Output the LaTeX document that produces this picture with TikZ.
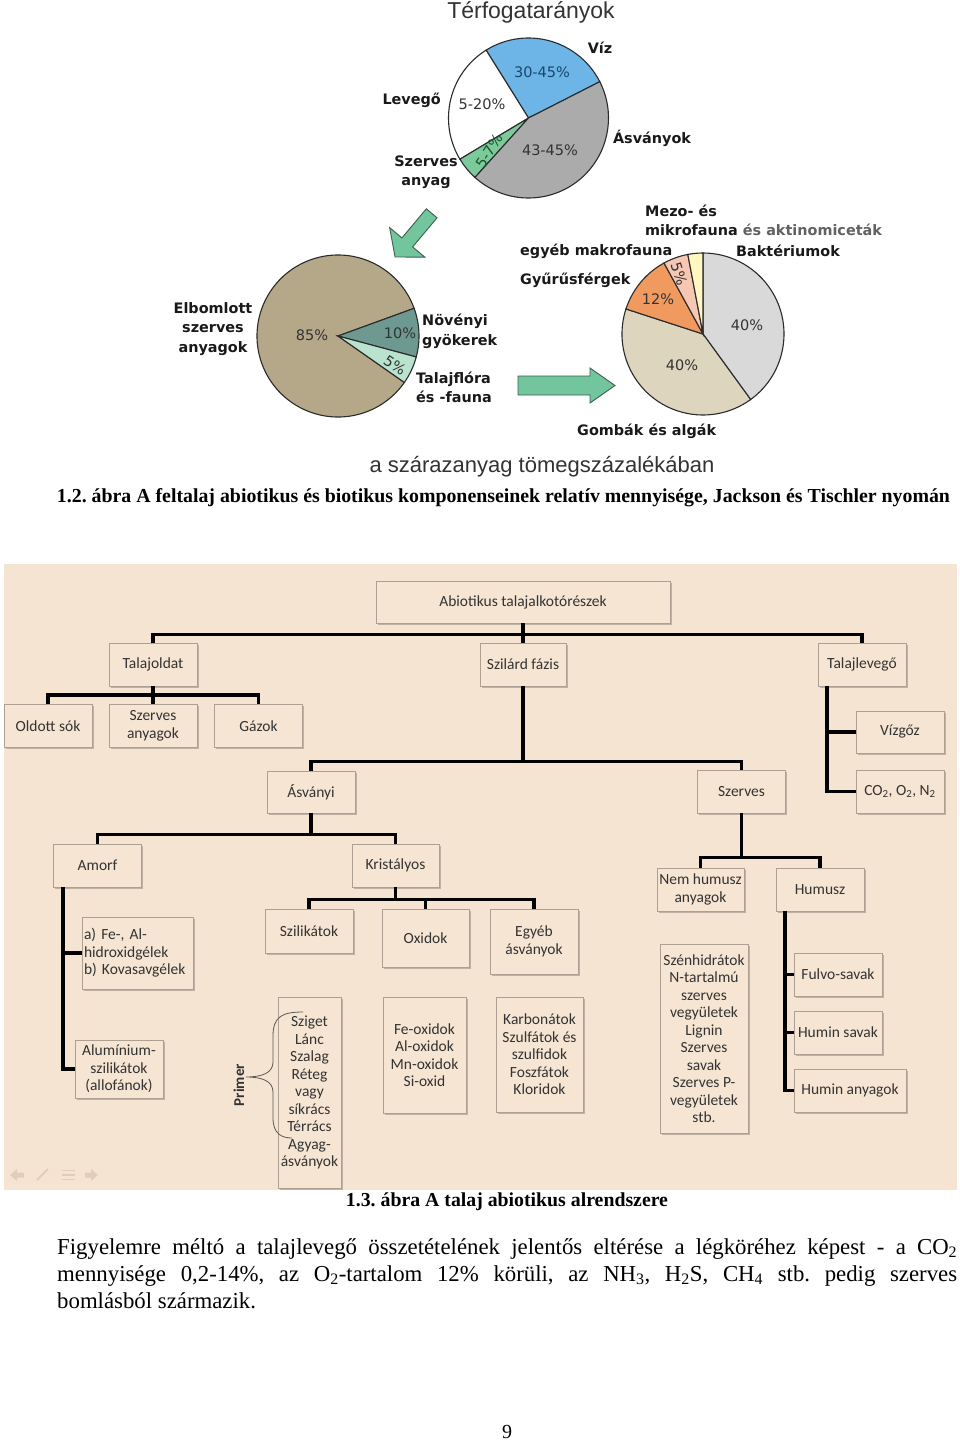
\documentclass[tikz,border=0pt]{standalone}
\usepackage{fontspec}
\setmainfont{Liberation Serif}
\newfontfamily\vfont{DejaVu Sans}
\newfontfamily\cfont{Carlito}
\newfontfamily\afont{Liberation Sans}
\usetikzlibrary{shadows}
\definecolor{pblue}{HTML}{6DB5E6}
\definecolor{pgray}{HTML}{ABABAB}
\definecolor{pgreen}{HTML}{7CC99A}
\definecolor{ptan}{HTML}{B5A889}
\definecolor{pteal}{HTML}{6E9990}
\definecolor{pmint}{HTML}{B9E3CF}
\definecolor{plgray}{HTML}{D9D9D9}
\definecolor{pbeige}{HTML}{DDD5BE}
\definecolor{porange}{HTML}{F09A60}
\definecolor{ppink}{HTML}{F6C7B3}
\definecolor{pyellow}{HTML}{FFF6C2}
\definecolor{pieline}{HTML}{2B2B2B}
\definecolor{arrowfill}{HTML}{72C59C}
\definecolor{arrowline}{HTML}{3E5E4E}
\definecolor{panelbg}{HTML}{F5E4D2}
\definecolor{boxfill}{HTML}{F6E5D3}
\definecolor{boxline}{HTML}{ADA093}
\definecolor{treetext}{HTML}{333333}
\definecolor{iconc}{HTML}{E2CDB8}
\newcommand\pieslice[6]{\filldraw[fill=#6, draw=pieline, line width=1.1pt] (#1,#2) -- ++(#4:#3pt) arc[start angle=#4, end angle=#5, radius=#3pt] -- cycle;}
\tikzset{
  plab/.style={font=\vfont\bfseries\fontsize{14.4}{19.5}\selectfont, text=black!90, align=center, inner sep=0pt},
  pval/.style={font=\vfont\fontsize{14.5}{16}\selectfont, text=black!80, inner sep=0pt},
  garrow/.style={fill=arrowfill, draw=arrowline, line width=0.9pt, line join=miter},
  tbox/.style={draw=boxline, fill=boxfill, line width=0.8pt, inner sep=1pt,
    drop shadow={shadow xshift=1.6pt, shadow yshift=-1.6pt, fill=black, opacity=0.22},
    font=\cfont\fontsize{15.5}{17.5}\selectfont, text=treetext, align=center,
    minimum width=88pt, minimum height=43pt},
  conn/.style={line width=3.6pt, draw=black},
}
\frenchspacing
\begin{document}
\begin{tikzpicture}[x=1pt,y=1pt]
\useasboundingbox (0,0) rectangle (960,-1443);
\fill[white] (0,0) rectangle (960,-1443);

% ---------------- Pie 1: Térfogatarányok
\node (title) [font=\afont\fontsize{23}{26}\selectfont, text=black!80, inner sep=0pt] at (531,-12) {Térfogatarányok};
\pieslice{528.5}{-118}{80}{27}{122}{pblue}
\pieslice{528.5}{-118}{80}{122}{211}{white}
\pieslice{528.5}{-118}{80}{211}{228}{pgreen}
\pieslice{528.5}{-118}{80}{228}{387}{pgray}
\node (v1) [pval, text={rgb,255:red,25;green,70;blue,110}] at (542,-72) {30-45\%};
\node (v2) [pval] at (482,-104) {5-20\%};
\node (v3) [pval] at (550,-150) {43-45\%};
\node (v4) [pval, text={rgb,255:red,25;green,85;blue,45}, rotate=58] at (489,-151) {5-7\%};
\node (lviz) [plab] at (600,-48) {Víz};
\node (llev) [plab, anchor=east] at (441,-100) {Levegő};
\node (lasv) [plab] at (652,-138) {Ásványok};
\node (lszer) [plab] at (426,-172) {Szerves\\anyag};

% arrows
\begin{scope}[shift={(431.7,-213.3)}, rotate=230]
\draw[garrow] (0,7) -- (38,7) -- (38,23) -- (57,0) -- (38,-23) -- (38,-7) -- (0,-7) -- cycle;
\end{scope}
\begin{scope}[shift={(518,-385.5)}]
\draw[garrow] (0,9.5) -- (72,9.5) -- (72,17.5) -- (97,0) -- (72,-17.5) -- (72,-9.5) -- (0,-9.5) -- cycle;
\end{scope}

% ---------------- Pie 2
\pieslice{338}{-336}{81}{20}{325}{ptan}
\pieslice{338}{-336}{81}{-15}{20}{pteal}
\pieslice{338}{-336}{81}{-35}{-15}{pmint}
\node (w1) [pval] at (312,-335) {85\%};
\node (w2) [pval] at (400,-333) {10\%};
\node (w3) [pval, rotate=-33] at (395,-365) {5\%};
\node (lelb) [plab] at (213,-329) {Elbomlott\\szerves\\anyagok};
\node (lnov) [plab, anchor=west, align=left] at (422,-331.5) {Növényi\\gyökerek};
\node (ltal) [plab, anchor=west, align=left] at (416,-387.5) {Talajflóra\\és -fauna};

% ---------------- Pie 3
\pieslice{703}{-334}{81}{-54}{90}{plgray}
\pieslice{703}{-334}{81}{162}{306}{pbeige}
\pieslice{703}{-334}{81}{118.8}{162}{porange}
\pieslice{703}{-334}{81}{100.8}{118.8}{ppink}
\pieslice{703}{-334}{81}{90}{100.8}{pyellow}
\node (u1) [pval] at (747,-325) {40\%};
\node (u2) [pval] at (682,-365) {40\%};
\node (u3) [pval] at (658,-299) {12\%};
\node (u4) [pval, rotate=-72] at (679,-274) {5\%};
\node (lmezo) [plab, anchor=west] at (645,-211) {Mezo- és};
\node (lmikro) [plab, anchor=west] at (645,-230) {mikrofauna {\color{black!62}és aktinomiceták}};
\node (lmakro) [plab, anchor=west] at (520,-251) {egyéb makrofauna};
\node (lbakt) [plab, anchor=west] at (736,-251) {Baktériumok};
\node (lgyur) [plab, anchor=west] at (520,-280) {Gyűrűsférgek};
\node (lgomb) [plab, anchor=west] at (577,-431) {Gombák és algák};

\node (sub) [font=\afont\fontsize{22}{24}\selectfont, text=black!80, inner sep=0pt] at (542,-467) {a szárazanyag tömegszázalékában};
\node (cap1) [inner sep=0pt] at (503.5,-498) {\resizebox{893pt}{!}{\fontsize{18}{20}\selectfont\bfseries 1.2. ábra A feltalaj abiotikus és biotikus komponenseinek relatív mennyisége, Jackson és Tischler nyomán}};

% ---------------- Tree panel
\fill[panelbg] (4,-564) rectangle (957,-1190);
% slide icons
\fill[iconc] (10,-1175) -- (17,-1169) -- (17,-1172.5) -- (24,-1172.5) -- (24,-1177.5) -- (17,-1177.5) -- (17,-1181) -- cycle;
\draw[iconc, line width=2pt] (37,-1180) -- (48,-1169);
\draw[iconc, line width=1.6pt] (62,-1170.5) -- (75,-1170.5) (62,-1175) -- (75,-1175) (62,-1179.5) -- (75,-1179.5);
\fill[iconc] (98,-1175) -- (91,-1169) -- (91,-1172.5) -- (85,-1172.5) -- (85,-1177.5) -- (91,-1177.5) -- (91,-1181) -- cycle;

\node (abio) [tbox, minimum width=294pt, minimum height=42pt] at (523,-602) {Abiotikus talajalkotórészek};
\node (tol) [tbox] at (153,-664.5) {Talajoldat};
\node (szil) [tbox, minimum width=86pt] at (523,-664.5) {Szilárd fázis};
\node (tlev) [tbox] at (862,-664.5) {Talajlevegő};
\node (oldott) [tbox] at (48,-726) {Oldott sók};
\node (szanyag) [tbox] at (153,-726) {Szerves\\anyagok};
\node (gaz) [tbox] at (258.5,-726) {Gázok};
\node (vizgoz) [tbox, minimum height=42pt] at (900,-732) {Vízgőz};
\node (co2) [tbox] at (900,-791.5) {CO\textsubscript{2}, O\textsubscript{2}, N\textsubscript{2}};
\node (asv) [tbox, minimum height=42pt] at (311,-792) {Ásványi};
\node (szerv) [tbox] at (741.5,-791.5) {Szerves};
\node (amorf) [tbox] at (97.5,-865.5) {Amorf};
\node (krist) [tbox, minimum width=87pt] at (395.5,-865.5) {Kristályos};
\node (szilik) [tbox, minimum height=44pt] at (309,-931) {Szilikátok};
\node (oxid) [tbox, minimum width=87pt, minimum height=58pt] at (425.5,-938) {Oxidok};
\node (egyeb) [tbox, minimum height=65pt] at (534,-941.5) {Egyéb\\ásványok};
\node (fe) [tbox, align=left, text width=107pt, inner sep=2pt, minimum width=111pt, minimum height=72pt] at (137.5,-953) {a) Fe-, Al-\\hidroxidgélek\\b) Kovasavgélek};
\node (alu) [tbox, minimum height=58pt] at (119,-1069) {Alumínium-\\szilikátok\\(allofánok)};
\node (szlist) [tbox, minimum width=63pt, minimum height=191pt] at (309.5,-1092.5) {Sziget\\Lánc\\Szalag\\Réteg\\vagy\\síkrács\\Térrács\\Agyag-\\ásványok};
\node (oxlist) [tbox, minimum width=83pt, minimum height=116pt] at (424.5,-1055) {Fe-oxidok\\Al-oxidok\\Mn-oxidok\\Si-oxid};
\node (karb) [tbox, minimum width=87pt, minimum height=115pt] at (539.5,-1054.5) {Karbonátok\\Szulfátok és\\szulfidok\\Foszfátok\\Kloridok};
\node (nemh) [tbox, minimum width=87pt] at (700.5,-889.5) {Nem humusz\\anyagok};
\node (hum) [tbox] at (820,-889.5) {Humusz};
\node (szenh) [tbox, minimum height=189pt] at (704,-1038.5) {Szénhidrátok\\N-tartalmú\\szerves\\vegyületek\\Lignin\\Szerves\\savak\\Szerves P-\\vegyületek\\stb.};
\node (fulvo) [tbox] at (838,-974.5) {Fulvo-savak};
\node (hsav) [tbox] at (838,-1032.5) {Humin savak};
\node (hany) [tbox, minimum width=112pt] at (850,-1090.5) {Humin anyagok};

% connectors
\draw[conn] (abio.south) -- (szil.north);
\draw[conn] (tol.north) -- ++(0,8) -| (tlev.north);
\draw[conn] (tol.south) -- (szanyag.north);
\draw[conn] (oldott.north) -- ++(0,9) -| (gaz.north);
\coordinate (tlx) at ([xshift=-35pt]tlev.south);
\draw[conn] (tlx) |- (co2.west);
\draw[conn] (vizgoz.west) -- (vizgoz.west -| tlx);
\draw[conn] (szil.south) -- ++(0,-76);
\draw[conn] (asv.north) -- ++(0,9) -| (szerv.north);
\draw[conn] (asv.south) -- ++(0,-22);
\draw[conn] (amorf.north) -- ++(0,9) -| (krist.north);
\draw[conn] (krist.south) -- ++(0,-13);
\draw[conn] (szilik.north) -- ++(0,9) -| (egyeb.north);
\draw[conn] (oxid.north) -- ++(0,9);
\coordinate (amx) at ([xshift=-34.5pt]amorf.south);
\draw[conn] (amx) |- (alu.west);
\draw[conn] (fe.west) -- (fe.west -| amx);
\draw[conn] (szerv.south) -- ++(0,-44);
\draw[conn] (nemh.north) -- ++(0,10) -| (hum.north);
\coordinate (hux) at ([xshift=-35pt]hum.south);
\draw[conn] (hux) |- (hany.west);
\draw[conn] (fulvo.west) -- (fulvo.west -| hux);
\draw[conn] (hsav.west) -- (hsav.west -| hux);

% brace and Primer
\coordinate (brtop) at (303,-1012);
\coordinate (brbot) at (292,-1138);
\coordinate (brtip) at (246,-1077);
\draw[line width=0.8pt, draw=black!65] (brtop) .. controls (283,-1012) and (273,-1016) .. (273,-1036) -- (273,-1062) .. controls (273,-1073) and (262,-1077) .. (brtip) .. controls (262,-1077) and (273,-1081) .. (273,-1092) -- (273,-1118) .. controls (273,-1134) and (282,-1138) .. (brbot);
\node (primer) [font=\cfont\bfseries\fontsize{15}{17}\selectfont, text=treetext, rotate=90, inner sep=0pt] at (239,-1085) {Primer};

\node (cap2) [inner sep=0pt] at (507,-1202) {\resizebox{322pt}{!}{\fontsize{19.5}{21}\selectfont\bfseries 1.3. ábra A talaj abiotikus alrendszere}};

% paragraph
\node (p1) [anchor=base west, inner sep=0pt, font=\fontsize{22.8}{27}\selectfont] at (57,-1254) {\makebox[900pt][s]{Figyelemre méltó a talajlevegő összetételének jelentős eltérése a légköréhez képest - a CO\textsubscript{2}}};
\node (p2) [anchor=base west, inner sep=0pt, font=\fontsize{22.8}{27}\selectfont] at (57,-1281) {\makebox[900pt][s]{mennyisége 0,2-14\%, az O\textsubscript{2}-tartalom 12\% körüli, az NH\textsubscript{3}, H\textsubscript{2}S, CH\textsubscript{4} stb. pedig szerves}};
\node (p3) [anchor=base west, inner sep=0pt, font=\fontsize{22.8}{27}\selectfont] at (57,-1308) {bomlásból származik.};
\node (pnum) [font=\fontsize{20}{22}\selectfont, inner sep=0pt] at (507,-1432) {9};
\end{tikzpicture}
\end{document}
